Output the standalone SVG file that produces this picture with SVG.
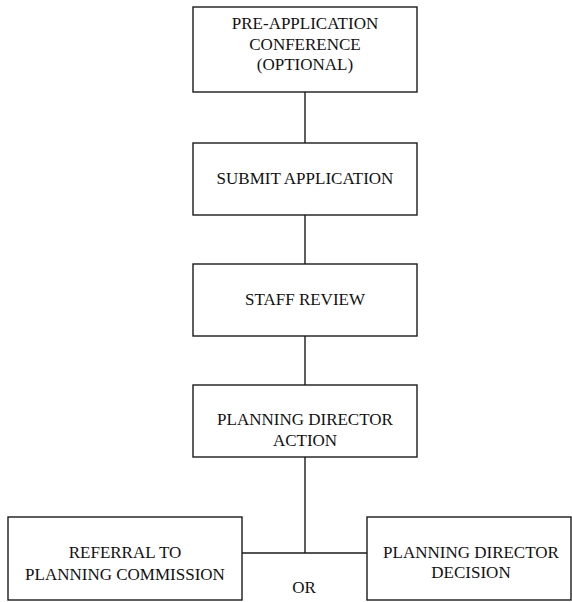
<svg xmlns="http://www.w3.org/2000/svg" width="572" height="602" viewBox="0 0 572 602">
<style>
.box{fill:#fff;stroke:#1a1a1a;stroke-width:1.4}
.t{font-family:"Liberation Serif","Times New Roman",serif;font-size:17px;fill:#111;text-anchor:middle}
.c{fill:none;stroke:#1a1a1a;stroke-width:1.4}
</style>
<rect width="572" height="602" fill="#fff"/>
<g id="connectors">
<line class="c" x1="305" y1="92" x2="305" y2="143"/>
<line class="c" x1="305" y1="215" x2="305" y2="264"/>
<line class="c" x1="305" y1="336" x2="305" y2="385"/>
<line class="c" x1="305" y1="457" x2="305" y2="553"/>
<line class="c" x1="242" y1="553" x2="367" y2="553"/>
</g>
<g id="pre-application">
<rect class="box" x="193" y="7" width="224" height="85"/>
<text class="t" x="305" y="29">PRE-APPLICATION</text>
<text class="t" x="305" y="50">CONFERENCE</text>
<text class="t" x="305" y="70">(OPTIONAL)</text>
</g>
<g id="submit">
<rect class="box" x="193" y="143" width="224" height="72"/>
<text class="t" x="305" y="184">SUBMIT APPLICATION</text>
</g>
<g id="staff-review">
<rect class="box" x="193" y="264" width="224" height="72"/>
<text class="t" x="305" y="305">STAFF REVIEW</text>
</g>
<g id="director-action">
<rect class="box" x="193" y="385" width="224" height="72"/>
<text class="t" x="305" y="425">PLANNING DIRECTOR</text>
<text class="t" x="305" y="446">ACTION</text>
</g>
<g id="referral">
<rect class="box" x="8" y="517" width="234" height="83"/>
<text class="t" x="125" y="558">REFERRAL TO</text>
<text class="t" x="125" y="580">PLANNING COMMISSION</text>
</g>
<g id="director-decision">
<rect class="box" x="367" y="517" width="204" height="83"/>
<text class="t" x="471" y="558">PLANNING DIRECTOR</text>
<text class="t" x="471" y="578">DECISION</text>
</g>
<g id="or-label">
<text class="t" x="304" y="593">OR</text>
</g>
</svg>
